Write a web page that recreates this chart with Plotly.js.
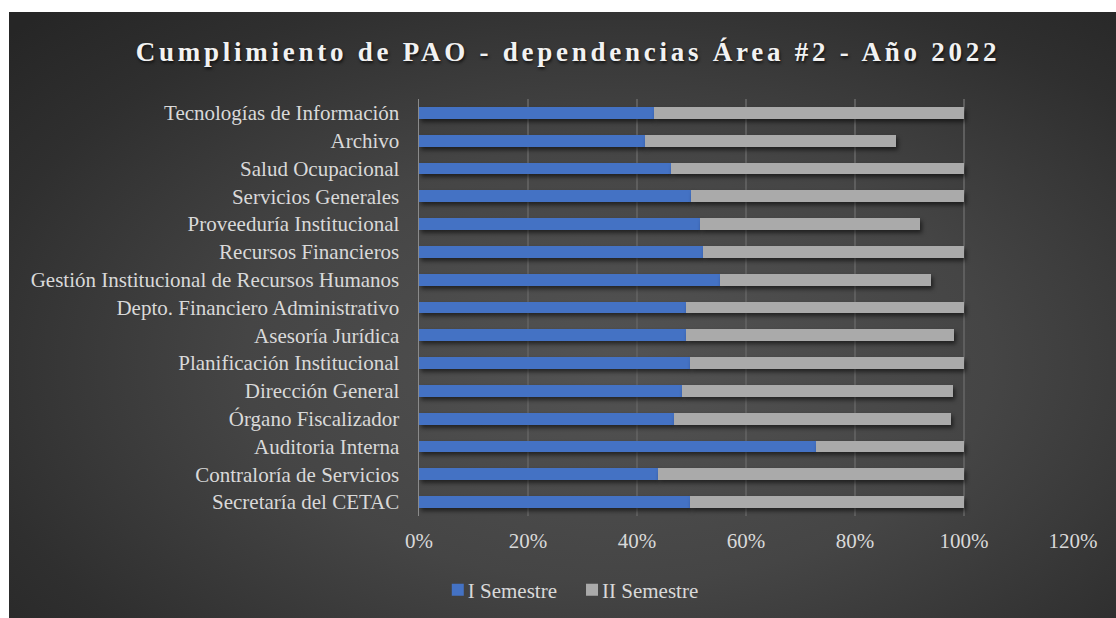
<!DOCTYPE html>
<html>
<head>
<meta charset="utf-8">
<script src="https://cdn.plot.ly/plotly-3.0.1.min.js"></script>
<style>
body { margin: 0; background: #ffffff; }
#graph {
	position: absolute; left: 9px; top: 12px; width: 1107px; height: 606px;
	background: radial-gradient(ellipse 75% 80% at 55% 58%, #535353 0%, #454545 45%, #2f2f2f 80%, #262626 100%);
}
#graph .gtitle { letter-spacing: 3.75px; }
#graph .barlayer .point path { filter: drop-shadow(2px 3px 2px rgba(0,0,0,0.55)); }
#graph .legend .legendtext { transform: translateX(-10px); }
</style>
</head>
<body>
<div id="graph"></div>
<script>
// dependencias, de arriba hacia abajo
var dependencias = [
	'Tecnologías de Información',
	'Archivo',
	'Salud Ocupacional',
	'Servicios Generales',
	'Proveeduría Institucional',
	'Recursos Financieros',
	'Gestión Institucional de Recursos Humanos',
	'Depto. Financiero Administrativo',
	'Asesoría Jurídica',
	'Planificación Institucional',
	'Dirección General',
	'Órgano Fiscalizador',
	'Auditoria Interna',
	'Contraloría de Servicios',
	'Secretaría del CETAC'
];

var semestre1 = [0.432, 0.414, 0.462, 0.499, 0.515, 0.521, 0.552, 0.489, 0.489, 0.497, 0.482, 0.467, 0.728, 0.438, 0.498];
var semestre2 = [0.568, 0.461, 0.538, 0.501, 0.404, 0.479, 0.387, 0.511, 0.492, 0.503, 0.497, 0.510, 0.272, 0.562, 0.502];

var serie_nombres = ['I Semestre', 'II Semestre'];
var serie_colores = ['#4472C4', '#AAAAAA'];

var fuente = 'Liberation Serif, Times New Roman, serif';

var data = [
	{ y: dependencias, x: semestre1, name: serie_nombres[0], type: 'bar', orientation: 'h',
	  marker: { color: serie_colores[0] }, hoverinfo: 'x+y+name' },
	{ y: dependencias, x: semestre2, name: serie_nombres[1], type: 'bar', orientation: 'h',
	  marker: { color: serie_colores[1] }, hoverinfo: 'x+y+name' }
];

var layout = {
	width: 1107,
	height: 606,
	barmode: 'stack',
	bargap: 0.57,
	paper_bgcolor: 'rgba(0,0,0,0)',
	plot_bgcolor: 'rgba(0,0,0,0)',
	margin: { l: 410, r: 43, t: 87, b: 102 },
	font: { family: fuente, size: 21, color: '#d9d9d9' },
	title: {
		text: 'Cumplimiento de PAO - dependencias Área #2 - Año 2022',
		font: { family: fuente, size: 27, color: '#f2f2f2', weight: 'bold',
			shadow: '1px 2px 3px rgba(0,0,0,0.7)' },
		xref: 'container', x: 0.505, xanchor: 'center',
		yref: 'container', y: 0.934, yanchor: 'middle'
	},
	xaxis: {
		range: [0, 1.2],
		dtick: 0.2,
		tickformat: '.0%',
		showgrid: true,
		gridcolor: '#5e5e5e',
		gridwidth: 1.3,
		zeroline: false,
		showline: false,
		ticks: '',
		ticklabelstandoff: 10,
		tickfont: { family: fuente, size: 21, color: '#d9d9d9' },
		fixedrange: true
	},
	yaxis: {
		type: 'category',
		autorange: 'reversed',
		showgrid: false,
		zeroline: false,
		showline: true,
		linecolor: '#8a8a8a',
		linewidth: 1.5,
		ticks: '',
		ticklabelstandoff: 14,
		tickfont: { family: fuente, size: 21, color: '#d9d9d9' },
		fixedrange: true
	},
	showlegend: true,
	legend: {
		orientation: 'h',
		traceorder: 'normal',
		xref: 'container', x: 0.512, xanchor: 'center',
		yref: 'container', y: 0.046, yanchor: 'middle',
		font: { family: fuente, size: 21, color: '#d9d9d9' },
		bgcolor: 'rgba(0,0,0,0)',
		itemwidth: 30,
		tracegroupgap: 0
	}
};

Plotly.newPlot('graph', data, layout, { displayModeBar: false, staticPlot: true });
</script>
</body>
</html>
